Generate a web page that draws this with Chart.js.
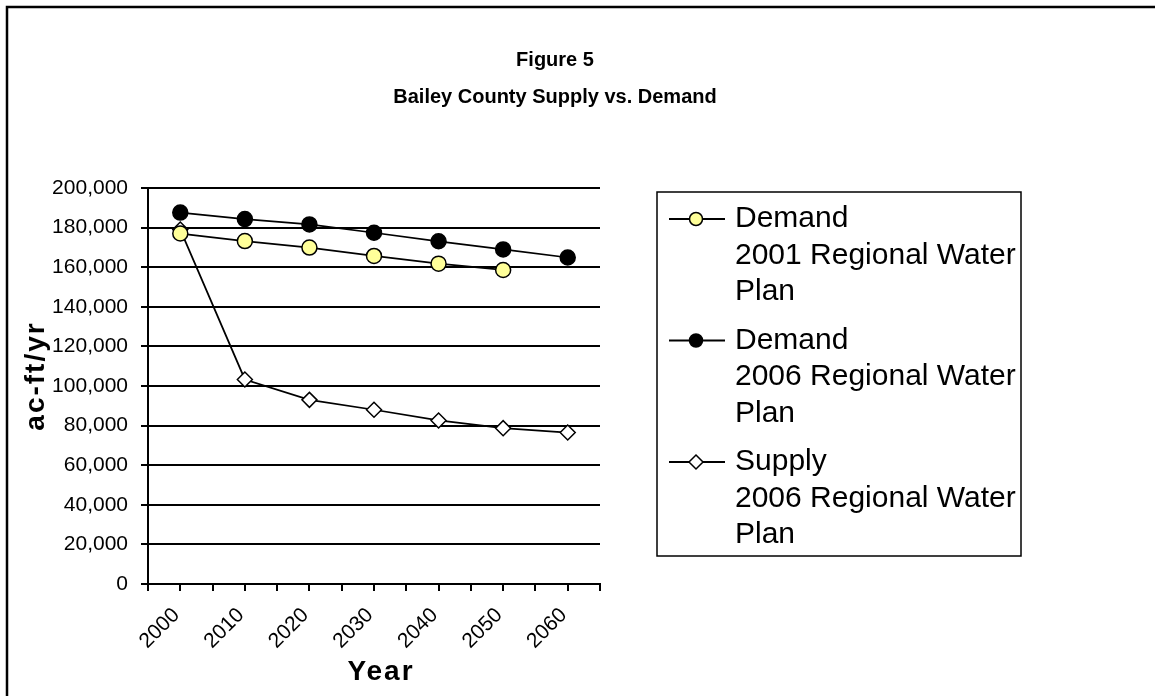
<!DOCTYPE html>
<html lang="en">
<head>
<meta charset="utf-8">
<title>Figure 5 - Bailey County Supply vs. Demand</title>
<script src="https://cdn.jsdelivr.net/npm/chart.js@4"></script>
<style>
    html, body { margin: 0; padding: 0; background: #fff; }
    #wrap { position: relative; width: 1155px; height: 696px; }
</style>
</head>
<body>
<div id="wrap"><canvas id="chart" width="1155" height="696"></canvas></div>
<script>
// values (ac-ft/yr)
const years = [2000, 2010, 2020, 2030, 2040, 2050, 2060];
const demand2001 = [177000, 173200, 169900, 165700, 161800, 158600];
const demand2006 = [187600, 184300, 181600, 177400, 173100, 169000, 164900];
const supply2006 = [179000, 103300, 93000, 88000, 82600, 78700, 76500];

const yTicks = [0, 20000, 40000, 60000, 80000, 100000, 120000, 140000, 160000, 180000, 200000];
const xTickLabels = ['2000', '2010', '2020', '2030', '2040', '2050', '2060'];

const titleLines = ['Figure 5', 'Bailey County Supply vs. Demand'];
const xTitle = 'Year';
const yTitle = 'ac-ft/yr';
const legendLabels = [
    ['Demand', '2001 Regional Water', 'Plan'],
    ['Demand', '2006 Regional Water', 'Plan'],
    ['Supply', '2006 Regional Water', 'Plan']
];

const FONT = 'Arial, "Liberation Sans", Helvetica, sans-serif';

function toPoints(vals) {
    return vals.map((v, i) => ({ x: years[i], y: v }));
}

// marker drawing for the legend, same look as the points
function drawMarker(ctx, style, x, y, r, fill, stroke, lw) {
    ctx.save();
    ctx.beginPath();
    if (style === 'rectRot') {
        ctx.moveTo(x, y - r);
        ctx.lineTo(x + r, y);
        ctx.lineTo(x, y + r);
        ctx.lineTo(x - r, y);
        ctx.closePath();
    } else {
        ctx.arc(x, y, r, 0, Math.PI * 2);
    }
    ctx.fillStyle = fill;
    ctx.fill();
    ctx.lineWidth = lw;
    ctx.strokeStyle = stroke;
    ctx.stroke();
    ctx.restore();
}

const decorPlugin = {
    id: 'decor',
    afterDraw(chart) {
        const ctx = chart.ctx;
        const area = chart.chartArea;
        ctx.save();

        // outer frame (top + left edges visible)
        ctx.strokeStyle = '#000';
        ctx.lineWidth = 2.5;
        ctx.beginPath();
        ctx.moveTo(7, 696);
        ctx.lineTo(7, 7);
        ctx.lineTo(1155, 7);
        ctx.stroke();

        // title
        ctx.fillStyle = '#000';
        ctx.font = 'bold 20px ' + FONT;
        ctx.textAlign = 'center';
        ctx.textBaseline = 'middle';
        ctx.fillText(titleLines[0], 555, 60);
        ctx.fillText(titleLines[1], 555, 97);

        // axis titles
        ctx.font = 'bold 28px ' + FONT;
        ctx.letterSpacing = '2px';
        ctx.fillText(xTitle, (area.left + area.right) / 2 + 7, 672);
        ctx.save();
        ctx.translate(36, 376);
        ctx.rotate(-Math.PI / 2);
        ctx.fillText(yTitle, 0, 0);
        ctx.restore();
        ctx.letterSpacing = '0px';

        // legend box
        const box = { left: 657, top: 192, right: 1021, bottom: 556 };
        ctx.lineWidth = 1.5;
        ctx.strokeStyle = '#000';
        ctx.strokeRect(box.left, box.top, box.right - box.left, box.bottom - box.top);

        ctx.font = '30px ' + FONT;
        ctx.textAlign = 'left';
        const lineGap = 36.5;
        const itemGap = 121.5;
        chart.data.datasets.forEach((ds, i) => {
            const y0 = 219 + i * itemGap;
            ctx.beginPath();
            ctx.lineWidth = 2;
            ctx.strokeStyle = '#000';
            ctx.moveTo(669, y0);
            ctx.lineTo(725, y0);
            ctx.stroke();
            const r = ds.pointStyle === 'rectRot' ? 7 : 6.5;
            drawMarker(ctx, ds.pointStyle, 696, y0, r,
                ds.pointBackgroundColor, ds.pointBorderColor, ds.pointBorderWidth);
            ctx.fillStyle = '#000';
            legendLabels[i].forEach((t, j) => {
                ctx.fillText(t, 735, y0 + j * lineGap);
            });
        });
        ctx.restore();
    }
};

const ctx = document.getElementById('chart').getContext('2d');
new Chart(ctx, {
    type: 'line',
    data: {
        datasets: [
            {
                label: 'Demand 2001 Regional Water Plan',
                data: toPoints(demand2001),
                borderColor: '#000',
                borderWidth: 1.75,
                pointStyle: 'circle',
                pointRadius: 7.5,
                pointBackgroundColor: '#FFFF99',
                pointBorderColor: '#000',
                pointBorderWidth: 1.5,
                tension: 0
            },
            {
                label: 'Demand 2006 Regional Water Plan',
                data: toPoints(demand2006),
                borderColor: '#000',
                borderWidth: 1.75,
                pointStyle: 'circle',
                pointRadius: 7.5,
                pointBackgroundColor: '#000',
                pointBorderColor: '#000',
                pointBorderWidth: 1.5,
                tension: 0
            },
            {
                label: 'Supply 2006 Regional Water Plan',
                data: toPoints(supply2006),
                borderColor: '#000',
                borderWidth: 1.75,
                pointStyle: 'rectRot',
                pointRadius: 7.5,
                pointBackgroundColor: '#fff',
                pointBorderColor: '#000',
                pointBorderWidth: 1.5,
                tension: 0
            }
        ]
    },
    options: {
        responsive: false,
        animation: false,
        devicePixelRatio: 1,
        layout: { padding: { left: 8, top: 188, right: 555, bottom: 0 } },
        plugins: {
            legend: { display: false },
            title: { display: false },
            tooltip: { enabled: false }
        },
        scales: {
            x: {
                type: 'linear',
                min: 1995,
                max: 2065,
                afterFit(scale) { scale.height = 112; },
                border: { color: '#000', width: 2 },
                grid: { drawOnChartArea: false, color: '#000', lineWidth: 2, tickLength: 7 },
                ticks: {
                    stepSize: 5,
                    autoSkip: false,
                    minRotation: 45,
                    maxRotation: 45,
                    padding: 12,
                    labelOffset: -4,
                    color: '#000',
                    font: { family: FONT, size: 21 },
                    callback: (v) => xTickLabels.includes(String(v)) ? String(v) : ''
                }
            },
            y: {
                min: 0,
                max: 200000,
                afterFit(scale) { scale.width = 140; },
                afterBuildTicks(scale) { scale.ticks = yTicks.map(v => ({ value: v })); },
                border: { color: '#000', width: 2 },
                grid: { color: '#000', lineWidth: 2, tickLength: 7 },
                ticks: {
                    padding: 13,
                    color: '#000',
                    font: { family: FONT, size: 21 },
                    callback: (v) => v.toLocaleString('en-US')
                }
            }
        }
    },
    plugins: [decorPlugin]
});
</script>
</body>
</html>
